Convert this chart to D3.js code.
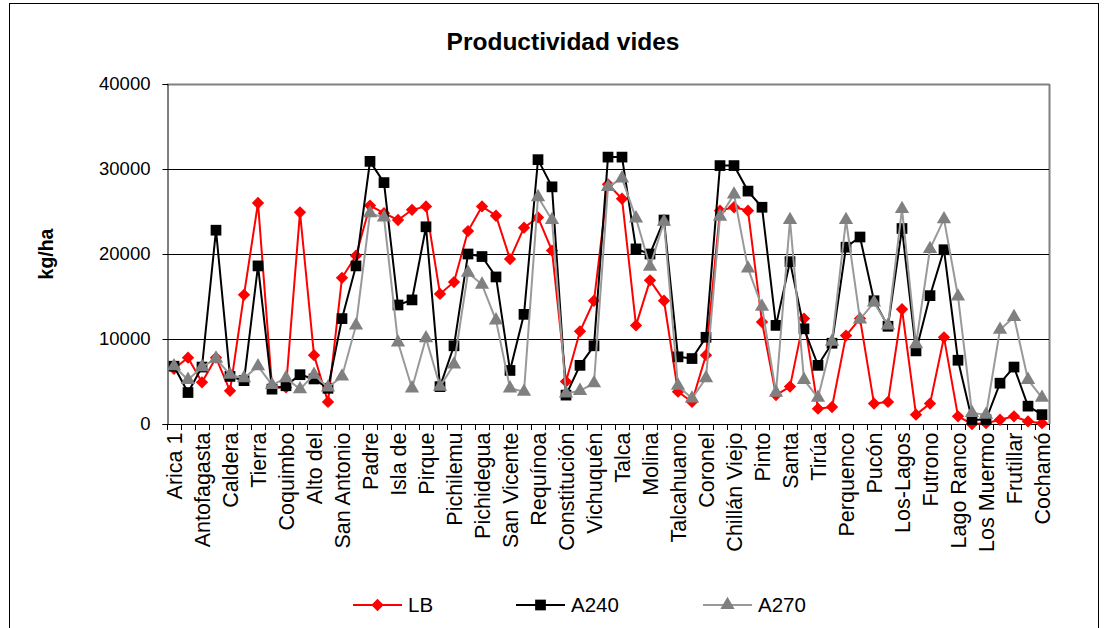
<!DOCTYPE html>
<html><head><meta charset="utf-8">
<script src="https://cdn.jsdelivr.net/npm/d3@7"></script>
<style>body{margin:0;background:#fff}svg{display:block;font-family:"Liberation Sans",Arial,sans-serif}</style>
</head><body>
<svg id="c" width="1107" height="628"></svg>
<script>
const categories = ["Arica 1","","Antofagasta","","Caldera","","Tierra","","Coquimbo","","Alto del","","San Antonio","","Padre","","Isla de","","Pirque","","Pichilemu","","Pichidegua","","San Vicente","","Requínoa","","Constitución","","Vichuquén","","Talca","","Molina","","Talcahuano","","Coronel","","Chillán Viejo","","Pinto","","Santa","","Tirúa","","Perquenco","","Pucón","","Los-Lagos","","Futrono","","Lago Ranco","","Los Muermo","","Frutillar","","Cochamó"];
const LB = [6500,7800,4900,7800,3900,15200,26000,4400,4300,24900,8100,2600,17200,19800,25700,24800,24000,25200,25600,15300,16700,22700,25600,24500,19400,23100,24300,20400,5000,10900,14500,28200,26500,11600,16900,14500,3800,2600,8100,25100,25500,25100,12000,3400,4400,12400,1800,2000,10400,12400,2400,2600,13500,1100,2400,10200,900,0,100,500,900,300,100];
const A240 = [6800,3700,6700,22800,5600,5100,18600,4100,4500,5800,5300,4200,12400,18600,30900,28400,14000,14600,23200,4400,9200,20000,19700,17300,6300,12900,31100,27900,3400,6900,9200,31400,31400,20600,20000,24000,7900,7700,10200,30400,30400,27400,25500,11600,19100,11200,6900,9500,20800,22000,14500,11500,23000,8600,15100,20500,7500,500,500,4800,6700,2100,1100];
const A270 = [6800,5200,6700,7700,5800,5400,6800,4600,5400,4100,5800,4300,5600,11600,24800,24300,9600,4200,10100,4400,7000,17800,16400,12200,4200,3800,26700,24000,3600,3900,4800,27900,28900,24200,18500,23800,4500,3000,5400,24400,27000,18300,13800,3700,24000,5200,3100,9700,24000,12300,14300,11600,25300,9400,20600,24100,15000,1300,1100,11100,12600,5200,3100];
const yTicks = [0,10000,20000,30000,40000];
const seriesNames = ["LB","A240","A270"];

const svg = d3.select("#c");
const L=167,R=1049,T=84,B=424;
const x = d3.scaleBand().domain(d3.range(categories.length)).range([L,R]);
const y = d3.scaleLinear().domain([0,40000]).range([B,T]);
const cx = i => x(i)+x.bandwidth()/2;

// outer border
svg.append("rect").attr("x",9.5).attr("y",3.5).attr("width",1089).attr("height",640).attr("fill","none").attr("stroke","#000");

// title
svg.append("text").attr("x",563).attr("y",50).attr("text-anchor","middle").attr("font-weight","bold").attr("font-size",24.5).text("Productividad vides");
svg.append("text").attr("transform","translate(53,254) rotate(-90)").attr("text-anchor","middle").attr("font-weight","bold").attr("font-size",19.5).text("kg/ha");

// plot border top/right
svg.append("line").attr("x1",L).attr("x2",R+0.5).attr("y1",T+0.5).attr("y2",T+0.5).attr("stroke","#808080").attr("stroke-width",2);
svg.append("line").attr("x1",R+0.5).attr("x2",R+0.5).attr("y1",T).attr("y2",B).attr("stroke","#808080").attr("stroke-width",2);

// gridlines
svg.append("g").selectAll("line").data(yTicks.filter(d=>d>0&&d<40000)).join("line")
  .attr("x1",L).attr("x2",R).attr("y1",d=>Math.round(y(d))+0.5).attr("y2",d=>Math.round(y(d))+0.5).attr("stroke","#000");

// y axis
const ya = svg.append("g").attr("transform",`translate(${L+0.5},0)`)
  .call(d3.axisLeft(y).tickValues(yTicks).tickSize(5).tickPadding(12).tickFormat(d3.format("d")));
ya.select(".domain").attr("stroke","#000");
ya.selectAll("text").attr("font-size",18.5).attr("font-family","Liberation Sans, Arial").attr("fill","#000");

// x axis
const xa = svg.append("g").attr("transform",`translate(0,${B+0.5})`)
  .call(d3.axisBottom(x).tickSize(0).tickFormat(i=>categories[i]));
xa.select(".domain").remove();
xa.selectAll("text").attr("font-size",21.5).attr("font-family","Liberation Sans, Arial").attr("fill","#000")
  .attr("text-anchor","end").attr("transform","rotate(-90)").attr("x",-8).attr("y",0).attr("dy","0.36em");
svg.append("line").attr("x1",L).attr("x2",R).attr("y1",B+0.5).attr("y2",B+0.5).attr("stroke","#000");
svg.append("g").selectAll("line").data(d3.range(categories.length+1)).join("line")
  .attr("x1",i=>Math.round(i<categories.length?x(i):R)+0.5).attr("x2",i=>Math.round(i<categories.length?x(i):R)+0.5)
  .attr("y1",B).attr("y2",B+6).attr("stroke","#000");

const diamond = d3.symbol().type(d3.symbolSquare).size(76);
const square = d3.symbol().type(d3.symbolSquare).size(115);
const tri = d3.symbol().type(d3.symbolTriangle).size(88);
const series = [
  {name:seriesNames[0],data:LB,line:"#ff0000",mark:"#ff0000",sym:diamond,rot:45},
  {name:seriesNames[1],data:A240,line:"#000000",mark:"#000000",sym:square,rot:0},
  {name:seriesNames[2],data:A270,line:"#999999",mark:"#808080",sym:tri,rot:0}
];
const line = d3.line().x((d,i)=>cx(i)).y(d=>y(d));
series.forEach(s=>{
  svg.append("path").attr("d",line(s.data)).attr("fill","none").attr("stroke",s.line).attr("stroke-width",2);
  svg.append("g").selectAll("path").data(s.data).join("path")
    .attr("d",s.sym).attr("fill",s.mark)
    .attr("transform",(d,i)=>`translate(${cx(i)},${y(d)}) rotate(${s.rot})`);
});

// legend
const lx=[353,516,703];
series.forEach((s,k)=>{
  const g=svg.append("g").attr("transform",`translate(${lx[k]},605)`);
  g.append("line").attr("x1",0).attr("x2",49).attr("stroke",s.line).attr("stroke-width",2);
  g.append("path").attr("d",s.sym).attr("fill",s.mark).attr("transform",`translate(24.5,0) rotate(${s.rot})`);
  g.append("text").attr("x",55).attr("dy","0.36em").attr("font-size",20.5).text(s.name);
});
</script>
</body></html>
